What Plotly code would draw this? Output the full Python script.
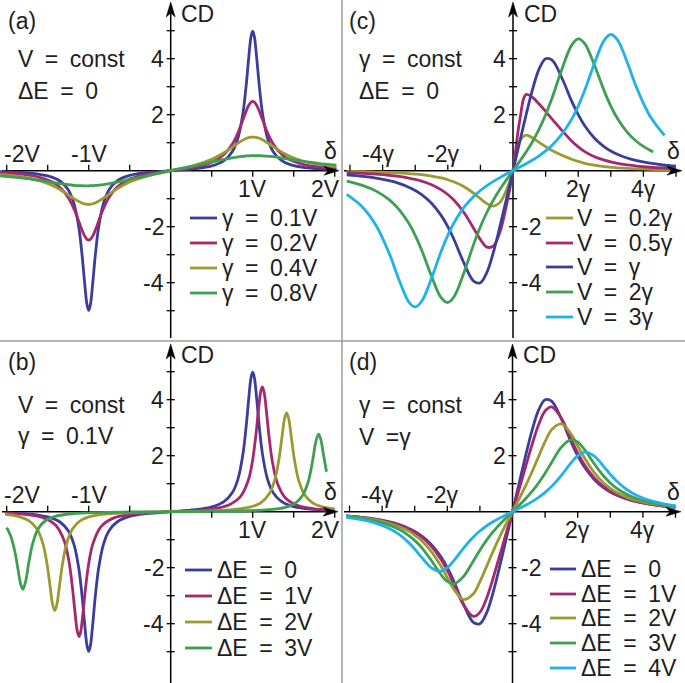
import plotly.graph_objects as go

W, H = 685, 683
FONT = "Liberation Sans, Arial, Helvetica, sans-serif"
TXT = "#1e1e1e"
FS = 23

C_BLUE = "#3b3d9c"
C_MAG = "#a5286f"
C_OLIVE = "#9b9a30"
C_GREEN = "#3d9f50"
C_CYAN = "#1fb2ea"

# ---------------- Panel (a): V = const, dE = 0 ; delta in units of V ----------------
delta_a = [-2.08, -1.8, -1.6, -1.45, -1.35, -1.25, -1.18, -1.12, -1.08, -1.05, -1.02, -1.0, -0.98, -0.95,
           -0.92, -0.88, -0.82, -0.75, -0.65, -0.5, -0.3, 0.0, 0.3, 0.5, 0.65, 0.75, 0.82, 0.88, 0.92, 0.95,
           0.98, 1.0, 1.02, 1.05, 1.08, 1.12, 1.18, 1.25, 1.35, 1.45, 1.6, 1.8, 2.02]
cd_a_g01 = [-0.037, -0.071, -0.128, -0.227, -0.368, -0.680, -1.169, -2.038, -3.037, -3.988, -4.795, -4.988,
            -4.795, -3.987, -3.035, -2.035, -1.164, -0.673, -0.359, -0.170, -0.071, 0.0, 0.071, 0.170, 0.359,
            0.673, 1.164, 2.035, 3.035, 3.987, 4.795, 4.988, 4.795, 3.988, 3.037, 2.038, 1.169, 0.680, 0.368,
            0.227, 0.128, 0.071, 0.042]
cd_a_g02 = [-0.072, -0.134, -0.235, -0.396, -0.597, -0.956, -1.360, -1.816, -2.132, -2.329, -2.451, -2.475,
            -2.450, -2.327, -2.128, -1.810, -1.351, -0.943, -0.579, -0.301, -0.131, 0.0, 0.131, 0.301, 0.579,
            0.943, 1.351, 1.810, 2.128, 2.327, 2.450, 2.475, 2.451, 2.329, 2.132, 1.816, 1.360, 0.956, 0.597,
            0.396, 0.235, 0.134, 0.082]
cd_a_g04 = [-0.130, -0.225, -0.356, -0.519, -0.673, -0.861, -0.999, -1.104, -1.157, -1.185, -1.200, -1.202,
            -1.198, -1.180, -1.150, -1.093, -0.982, -0.837, -0.639, -0.405, -0.200, 0.0, 0.200, 0.405, 0.639,
            0.837, 0.982, 1.093, 1.150, 1.180, 1.198, 1.202, 1.200, 1.185, 1.157, 1.104, 0.999, 0.861, 0.673,
            0.519, 0.356, 0.225, 0.145]
cd_a_g08 = [-0.182, -0.265, -0.346, -0.415, -0.460, -0.499, -0.521, -0.533, -0.538, -0.540, -0.540, -0.539,
            -0.537, -0.533, -0.526, -0.515, -0.494, -0.461, -0.406, -0.311, -0.182, 0.0, 0.182, 0.311, 0.406,
            0.461, 0.494, 0.515, 0.526, 0.533, 0.537, 0.539, 0.540, 0.540, 0.538, 0.533, 0.521, 0.499, 0.460,
            0.415, 0.346, 0.265, 0.197]
labels_a = ["\u03b3\u2002=\u20020.1V", "\u03b3\u2002=\u20020.2V", "\u03b3\u2002=\u20020.4V", "\u03b3\u2002=\u20020.8V"]

# ---------------- Panel (b): V = const, gamma = 0.1V ----------------
delta_b_e0 = [-2.02, -1.8, -1.6, -1.45, -1.35, -1.25, -1.18, -1.12, -1.08, -1.05, -1.02, -1.0, -0.98, -0.95,
              -0.92, -0.88, -0.82, -0.75, -0.65, -0.5, -0.3, 0.0, 0.3, 0.5, 0.65, 0.75, 0.82, 0.88, 0.92, 0.95,
              0.98, 1.0, 1.02, 1.05, 1.08, 1.12, 1.18, 1.25, 1.35, 1.45, 1.6, 1.8, 2.0]
cd_b_e0 = [-0.042, -0.071, -0.128, -0.227, -0.368, -0.680, -1.169, -2.038, -3.037, -3.988, -4.795, -4.988,
           -4.795, -3.987, -3.035, -2.035, -1.164, -0.673, -0.359, -0.170, -0.071, 0.0, 0.071, 0.170, 0.359,
           0.673, 1.164, 2.035, 3.035, 3.987, 4.795, 4.988, 4.795, 3.988, 3.037, 2.038, 1.169, 0.680, 0.368,
           0.227, 0.128, 0.071, 0.044]
delta_b_e1 = [-2.02, -1.75, -1.55, -1.4, -1.3, -1.24, -1.2, -1.17, -1.14, -1.118, -1.1, -1.07, -1.04, -1.0,
              -0.95, -0.85, -0.7, -0.5, -0.3, 0.0, 0.3, 0.5, 0.7, 0.85, 0.95, 1.0, 1.04, 1.07, 1.1, 1.118, 1.14,
              1.17, 1.2, 1.24, 1.3, 1.4, 1.55, 1.75, 2.0]
cd_b_e1 = [-0.050, -0.104, -0.221, -0.492, -1.029, -1.788, -2.665, -3.511, -4.255, -4.461, -4.320, -3.625,
           -2.770, -1.860, -1.160, -0.535, -0.229, -0.097, -0.044, 0.0, 0.044, 0.097, 0.229, 0.535, 1.160,
           1.860, 2.770, 3.625, 4.320, 4.461, 4.255, 3.511, 2.665, 1.788, 1.029, 0.492, 0.221, 0.104, 0.052]
delta_b_e2 = [-2.02, -1.85, -1.73, -1.63, -1.56, -1.51, -1.47, -1.44, -1.414, -1.39, -1.36, -1.32, -1.27, -1.2,
              -1.1, -0.95, -0.7, -0.4, 0.0, 0.4, 0.7, 0.95, 1.1, 1.2, 1.27, 1.32, 1.36, 1.39, 1.414, 1.44, 1.47,
              1.51, 1.56, 1.63, 1.73, 1.85, 2.0]
cd_b_e2 = [-0.091, -0.173, -0.318, -0.619, -1.125, -1.835, -2.686, -3.307, -3.531, -3.339, -2.732, -1.872,
           -1.147, -0.628, -0.320, -0.151, -0.060, -0.023, 0.0, 0.023, 0.060, 0.151, 0.320, 0.628, 1.147, 1.872,
           2.732, 3.339, 3.531, 3.307, 2.686, 1.835, 1.125, 0.619, 0.318, 0.173, 0.097]
delta_b_e3 = [-2.0, -1.95, -1.9, -1.86, -1.83, -1.803, -1.77, -1.73, -1.68, -1.61, -1.52, -1.4, -1.2, -0.9, -0.5,
              0.0, 0.5, 0.9, 1.2, 1.4, 1.52, 1.61, 1.68, 1.73, 1.77, 1.803, 1.83, 1.86, 1.9]
cd_b_e3 = [-0.567, -0.876, -1.428, -2.091, -2.583, -2.772, -2.499, -1.807, -1.103, -0.585, -0.305, -0.158,
           -0.071, -0.030, -0.011, 0.0, 0.011, 0.030, 0.071, 0.158, 0.305, 0.585, 1.103, 1.807, 2.499, 2.772,
           2.583, 2.091, 1.428]
labels_b = ["\u0394E\u2002=\u20020", "\u0394E\u2002=\u20021V", "\u0394E\u2002=\u20022V", "\u0394E\u2002=\u20023V"]

# ---------------- Panel (c): gamma = const, dE = 0 ; delta in units of gamma ----------------
delta_c = [-5.1, -4.6, -4.2, -3.8, -3.5, -3.2, -3.0, -2.8, -2.5, -2.2, -2.0, -1.8, -1.5, -1.2, -1.0, -0.8, -0.6,
           -0.4, -0.2, 0.0, 0.2, 0.4, 0.6, 0.8, 1.0, 1.2, 1.5, 1.8, 2.0, 2.2, 2.5, 2.8, 3.0, 3.2, 3.5, 3.8, 4.2,
           4.6, 5.0]
cd_c_v02 = [-0.028, -0.038, -0.049, -0.064, -0.080, -0.102, -0.121, -0.144, -0.192, -0.260, -0.323, -0.405,
            -0.573, -0.811, -1.000, -1.176, -1.262, -1.131, -0.690, 0.0, 1.05, 1.27, 1.17, 1.01, 0.86,
            0.72, 0.55, 0.41, 0.33, 0.265, 0.195, 0.146, 0.122, 0.103, 0.080, 0.064, 0.049, 0.038, 0.030]
cd_c_v05 = [-0.071, -0.096, -0.124, -0.164, -0.206, -0.263, -0.312, -0.375, -0.500, -0.683, -0.849, -1.064,
            -1.500, -2.070, -2.462, -2.729, -2.688, -2.188, -1.232, 0.0, 1.75, 2.72, 2.62, 2.38, 2.12,
            1.84, 1.44, 1.06, 0.85, 0.683, 0.500, 0.375, 0.312, 0.263, 0.206, 0.164, 0.124, 0.096, 0.076]
cd_c_v1 = [-0.150, -0.204, -0.267, -0.358, -0.454, -0.588, -0.706, -0.855, -1.161, -1.604, -2.000, -2.484,
           -3.311, -3.952, -4.000, -3.629, -2.906, -1.988, -1.000, 0.0, 1.000, 1.988, 2.906, 3.629, 4.000, 3.952,
           3.311, 2.484, 2.000, 1.604, 1.161, 0.855, 0.706, 0.588, 0.454, 0.358, 0.267, 0.204, 0.159]
delta_c_v2 = [-5.1, -4.6, -4.2, -3.8, -3.5, -3.2, -3.0, -2.8, -2.5, -2.2, -2.0, -1.8, -1.5, -1.2, -1.0, -0.8,
              -0.6, -0.4, -0.2, 0.0, 0.2, 0.4, 0.6, 0.8, 1.0, 1.2, 1.5, 1.8, 2.0, 2.2, 2.5, 2.8, 3.0, 3.2, 3.5,
              3.8, 4.2, 4.3]
cd_c_v2 = [-0.374, -0.532, -0.729, -1.035, -1.379, -1.871, -2.308, -2.841, -3.765, -4.540, -4.706, -4.484,
           -3.623, -2.604, -2.000, -1.484, -1.045, -0.665, -0.323, 0.0, 0.323, 0.665, 1.045, 1.484, 2.000, 2.604,
           3.623, 4.484, 4.706, 4.540, 3.765, 2.841, 2.308, 1.871, 1.379, 1.035, 0.729, 0.672]
delta_c_v3 = [-5.1, -4.6, -4.2, -3.8, -3.5, -3.2, -3.0, -2.8, -2.5, -2.2, -2.0, -1.8, -1.5, -1.2, -1.0, -0.8,
              -0.6, -0.4, -0.2, 0.0, 0.2, 0.4, 0.6, 0.8, 1.0, 1.2, 1.5, 1.8, 2.0, 2.2, 2.5, 2.8, 3.0, 3.2, 3.5,
              3.8, 4.2, 4.65]
cd_c_v3 = [-0.849, -1.320, -1.955, -2.943, -3.885, -4.681, -4.865, -4.663, -3.840, -2.871, -2.308, -1.841,
           -1.303, -0.911, -0.706, -0.532, -0.382, -0.247, -0.121, 0.0, 0.121, 0.247, 0.382, 0.532, 0.706, 0.911,
           1.303, 1.841, 2.308, 2.871, 3.840, 4.663, 4.865, 4.681, 3.885, 2.943, 1.955, 1.259]
labels_c = ["V\u2002=\u20020.2\u03b3", "V\u2002=\u20020.5\u03b3", "V\u2002=\u2002\u03b3", "V\u2002=\u20022\u03b3",
            "V\u2002=\u20023\u03b3"]

# ---------------- Panel (d): gamma = const, V = gamma ----------------
cd_d_e0 = [-0.150, -0.204, -0.267, -0.358, -0.454, -0.588, -0.706, -0.855, -1.161, -1.604, -2.000, -2.484,
           -3.311, -3.952, -4.000, -3.629, -2.906, -1.988, -1.000, 0.0, 1.000, 1.988, 2.906, 3.629, 4.000, 3.952,
           3.311, 2.484, 2.000, 1.604, 1.161, 0.855, 0.706, 0.588, 0.454, 0.358, 0.267, 0.204, 0.159]
cd_d_e1 = [-0.152, -0.208, -0.273, -0.368, -0.470, -0.610, -0.736, -0.894, -1.219, -1.688, -2.098, -2.583,
           -3.333, -3.740, -3.596, -3.106, -2.395, -1.597, -0.793, 0.0, 0.793, 1.597, 2.395, 3.106, 3.596, 3.740,
           3.333, 2.583, 2.098, 1.688, 1.219, 0.894, 0.736, 0.610, 0.470, 0.368, 0.273, 0.208, 0.162]
cd_d_e2 = [-0.161, -0.222, -0.295, -0.403, -0.520, -0.685, -0.833, -1.022, -1.406, -1.934, -2.353, -2.765,
           -3.137, -2.930, -2.501, -1.969, -1.427, -0.919, -0.448, 0.0, 0.448, 0.919, 1.427, 1.969, 2.501, 2.930,
           3.137, 2.765, 2.353, 1.934, 1.406, 1.022, 0.833, 0.685, 0.520, 0.403, 0.295, 0.222, 0.171]
cd_d_e3 = [-0.176, -0.248, -0.336, -0.470, -0.620, -0.833, -1.025, -1.266, -1.725, -2.233, -2.491, -2.576,
           -2.308, -1.757, -1.373, -1.026, -0.724, -0.461, -0.224, 0.0, 0.224, 0.461, 0.724, 1.026, 1.373, 1.757,
           2.308, 2.576, 2.491, 2.233, 1.725, 1.266, 1.025, 0.833, 0.620, 0.470, 0.336, 0.248, 0.188]
cd_d_e4 = [-0.202, -0.292, -0.408, -0.589, -0.795, -1.086, -1.333, -1.612, -1.995, -2.125, -2.000, -1.750,
           -1.301, -0.904, -0.690, -0.511, -0.361, -0.230, -0.112, 0.0, 0.112, 0.230, 0.361, 0.511, 0.690, 0.904,
           1.301, 1.750, 2.000, 2.125, 1.995, 1.612, 1.333, 1.086, 0.795, 0.589, 0.408, 0.292, 0.217]
labels_d = ["\u0394E\u2002=\u20020", "\u0394E\u2002=\u20021V", "\u0394E\u2002=\u20022V", "\u0394E\u2002=\u20023V",
            "\u0394E\u2002=\u20024V"]

# tick values / labels
xticks_V = [-2, -1.5, -1, -0.5, 0.5, 1, 1.5, 2]
xlab_V = {-2: "-2V", -1: "-1V", 1: "1V", 2: "2V"}
xticks_g = [-5, -4, -3, -2, -1, 1, 2, 3, 4, 5]
xlab_g = {-4: "-4\u03b3", -2: "-2\u03b3", 2: "2\u03b3", 4: "4\u03b3"}
yticks = [-5, -4, -3, -2, -1, 1, 2, 3, 4, 5]
ylab = {4: "4", 2: "2", -2: "-2", -4: "-4"}

# ---------------- panel geometry (pixels) ----------------
panels = {
    "a": dict(xa="x", ya="y", px=(0, 342), py=(0, 341), ox=170.7, oy=170.7, sx=82.0, sy=28.0,
              xend=(2, 339), yend=(338, 2)),
    "b": dict(xa="x2", ya="y2", px=(0, 342), py=(341, 683), ox=170.7, oy=511.7, sx=82.0, sy=28.0,
              xend=(2, 338), yend=(683, 344)),
    "c": dict(xa="x3", ya="y3", px=(342, 685), py=(0, 341), ox=513.0, oy=170.7, sx=32.6, sy=28.0,
              xend=(344, 682), yend=(338, 2)),
    "d": dict(xa="x4", ya="y4", px=(342, 685), py=(341, 683), ox=512.5, oy=511.7, sx=32.6, sy=28.0,
              xend=(344, 681), yend=(683, 344)),
}


def dx(k, px):
    p = panels[k]
    return (px - p["ox"]) / p["sx"]


def dy(k, py):
    p = panels[k]
    return (p["oy"] - py) / p["sy"]


fig = go.Figure()
layout_axes = {}
for i, (k, p) in enumerate(panels.items()):
    suffix = "" if i == 0 else str(i + 1)
    layout_axes["xaxis" + suffix] = dict(domain=[p["px"][0] / W, p["px"][1] / W],
                                         range=[dx(k, p["px"][0]), dx(k, p["px"][1])],
                                         visible=False, fixedrange=True, anchor=p["ya"])
    layout_axes["yaxis" + suffix] = dict(domain=[1 - p["py"][1] / H, 1 - p["py"][0] / H],
                                         range=[dy(k, p["py"][1]), dy(k, p["py"][0])],
                                         visible=False, fixedrange=True, anchor=p["xa"])

shapes = []
annotations = []


def add_axes(k, xt, xl, ylabels_right_neg):
    p = panels[k]
    xr, yr = p["xa"], p["ya"]
    ln = dict(color="black", width=1.5)
    shapes.append(dict(type="line", xref=xr, yref=yr, x0=dx(k, p["xend"][0]), x1=dx(k, p["xend"][1] - 8),
                       y0=0, y1=0, line=ln, layer="below"))
    shapes.append(dict(type="line", xref=xr, yref=yr, x0=0, x1=0, y0=dy(k, p["yend"][0]),
                       y1=dy(k, p["yend"][1] + 8), line=ln, layer="below"))
    tx, ty = p["xend"][1], p["oy"]
    pts = [(tx, ty), (tx - 15, ty - 4.5), (tx - 11, ty), (tx - 15, ty + 4.5)]
    path = "M" + " L".join(f"{dx(k, a):.4f},{dy(k, b):.4f}" for a, b in pts) + " Z"
    shapes.append(dict(type="path", xref=xr, yref=yr, path=path, fillcolor="black",
                       line=dict(color="black", width=0.5)))
    tx, ty = p["ox"], p["yend"][1]
    pts = [(tx, ty), (tx - 4.5, ty + 15), (tx, ty + 11), (tx + 4.5, ty + 15)]
    path = "M" + " L".join(f"{dx(k, a):.4f},{dy(k, b):.4f}" for a, b in pts) + " Z"
    shapes.append(dict(type="path", xref=xr, yref=yr, path=path, fillcolor="black",
                       line=dict(color="black", width=0.5)))
    for v in xt:
        L = 6 / p["sy"]
        y0, y1 = (0, L) if v < 0 else (-L, 0)
        shapes.append(dict(type="line", xref=xr, yref=yr, x0=v, x1=v, y0=y0, y1=y1,
                           line=dict(color="black", width=1.3)))
    for v in yticks:
        L = 4 / p["sx"]
        shapes.append(dict(type="line", xref=xr, yref=yr, x0=-L, x1=L, y0=v, y1=v,
                           line=dict(color="black", width=1.3)))
    xmin_lab = min(xl)
    xmax_lab = max(xl)
    for v, s in xl.items():
        anchor, shift = "center", 0
        if k in ("a", "b"):
            if v == xmin_lab:
                anchor, shift = "left", -5
            elif v == xmax_lab:
                anchor, shift = "right", 7
        else:
            if v < 0:
                shift = -5
        annotations.append(dict(xref=xr, yref=yr, x=v, y=0, text=s, showarrow=False, xanchor=anchor,
                                yanchor="middle", xshift=shift, yshift=(17 if v < 0 else -18),
                                font=dict(size=FS, family=FONT, color=TXT)))
    for v, s in ylab.items():
        right_side = ylabels_right_neg and v < 0
        annotations.append(dict(xref=xr, yref=yr, x=0, y=v, text=s, showarrow=False,
                                xanchor="left" if right_side else "right", yanchor="middle",
                                xshift=(6 if right_side else -5),
                                font=dict(size=FS, family=FONT, color=TXT)))


add_axes("a", xticks_V, xlab_V, False)
add_axes("b", xticks_V, xlab_V, False)
add_axes("c", xticks_g, xlab_g, True)
add_axes("d", xticks_g, xlab_g, True)


def ptxt(px, py, s, anchor="left"):
    annotations.append(dict(xref="paper", yref="paper", x=px / W, y=1 - py / H, text=s, showarrow=False,
                            xanchor=anchor, yanchor="middle", font=dict(size=FS, family=FONT, color=TXT)))


for (lx, ly, lab), (cx, cy), (gx, gy), (t1, t2, tx, t1y, t2y) in [
    ((6, 21, "(a)"), (179, 14), (330, 151), ("V\u2002=\u2002const", "\u0394E\u2002=\u20020", 16, 59, 91)),
    ((6, 362, "(b)"), (179, 355), (330, 492), ("V\u2002=\u2002const", "\u03b3\u2002=\u20020.1V", 16, 405, 436)),
    ((347, 21, "(c)"), (522, 14), (673, 151), ("\u03b3\u2002=\u2002const", "\u0394E\u2002=\u20020", 357, 59, 91)),
    ((347, 362, "(d)"), (521, 355), (673, 492), ("\u03b3\u2002=\u2002const", "V\u2002=\u03b3", 357, 405, 437)),
]:
    ptxt(lx, ly, lab)
    ptxt(cx, cy, "CD")
    ptxt(gx, gy, "\u03b4", anchor="center")
    ptxt(tx, t1y, t1)
    ptxt(tx, t2y, t2)

shapes.append(dict(type="line", xref="paper", yref="paper", x0=342 / W, x1=342 / W, y0=0, y1=1,
                   line=dict(color="#9c9c9c", width=1.5)))
shapes.append(dict(type="line", xref="paper", yref="paper", x0=0, x1=1, y0=1 - 341 / H, y1=1 - 341 / H,
                   line=dict(color="#9c9c9c", width=1.5)))

LW = 2.8


def add_curves(k, series, legend_x, legend_rows):
    p = panels[k]
    for (xs, ys, col, lab), ry in zip(series, legend_rows):
        fig.add_trace(go.Scatter(x=xs, y=ys, xaxis=p["xa"], yaxis=p["ya"], mode="lines",
                                 line=dict(color=col, width=LW, shape="spline", smoothing=1.0),
                                 name=lab, hoverinfo="skip"))
        shapes.append(dict(type="line", xref="paper", yref="paper", x0=legend_x[0] / W, x1=legend_x[1] / W,
                           y0=1 - ry / H, y1=1 - ry / H, line=dict(color=col, width=LW)))
        ptxt(legend_x[2], ry, lab)


add_curves("a", [(delta_a, cd_a_g01, C_BLUE, labels_a[0]), (delta_a, cd_a_g02, C_MAG, labels_a[1]),
                 (delta_a, cd_a_g04, C_OLIVE, labels_a[2]), (delta_a, cd_a_g08, C_GREEN, labels_a[3])],
           (190, 217, 220), [218, 243, 268, 293])
add_curves("b", [(delta_b_e0, cd_b_e0, C_BLUE, labels_b[0]), (delta_b_e1, cd_b_e1, C_MAG, labels_b[1]),
                 (delta_b_e2, cd_b_e2, C_OLIVE, labels_b[2]), (delta_b_e3, cd_b_e3, C_GREEN, labels_b[3])],
           (185, 212, 215), [570, 596, 622, 648])
add_curves("c", [(delta_c, cd_c_v02, C_OLIVE, labels_c[0]), (delta_c, cd_c_v05, C_MAG, labels_c[1]),
                 (delta_c, cd_c_v1, C_BLUE, labels_c[2]), (delta_c_v2, cd_c_v2, C_GREEN, labels_c[3]),
                 (delta_c_v3, cd_c_v3, C_CYAN, labels_c[4])],
           (546, 573, 575), [218, 243, 267, 292, 317])
add_curves("d", [(delta_c, cd_d_e0, C_BLUE, labels_d[0]), (delta_c, cd_d_e1, C_MAG, labels_d[1]),
                 (delta_c, cd_d_e2, C_OLIVE, labels_d[2]), (delta_c, cd_d_e3, C_GREEN, labels_d[3]),
                 (delta_c, cd_d_e4, C_CYAN, labels_d[4])],
           (550, 576, 579), [569, 594, 618, 643, 668])

fig.update_layout(width=W, height=H, margin=dict(l=0, r=0, t=0, b=0), paper_bgcolor="white",
                  plot_bgcolor="rgba(0,0,0,0)", showlegend=False, shapes=shapes, annotations=annotations,
                  **layout_axes)
fig.write_html("out.html", config={"displayModeBar": False, "staticPlot": True},
               post_script="document.body.style.margin='0px';document.body.style.overflow='hidden';")
